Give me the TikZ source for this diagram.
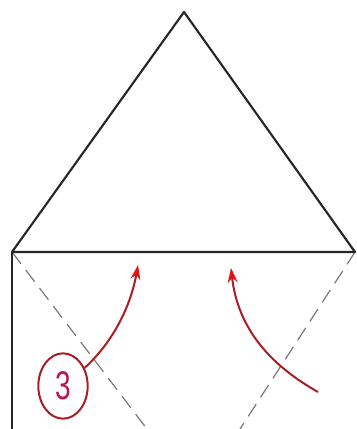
\documentclass[tikz,border=0pt]{standalone}
\usepackage{fontspec}
\setmainfont{Liberation Sans}
\usetikzlibrary{arrows.meta,shapes.geometric}
\definecolor{pen}{RGB}{170,30,35}
\definecolor{tipred}{RGB}{225,20,20}
\definecolor{foldgray}{RGB}{120,120,120}
\begin{document}
\begin{tikzpicture}[x=0.75pt,y=-0.75pt,
  solid line/.style={line width=1.6pt,black!85,line cap=round,line join=round},
  fold line/.style={line width=0.9pt,foldgray,dash pattern=on 11pt off 6pt},
  red arrow/.style={line width=1.5pt,pen,-{Stealth[length=11pt,width=7.5pt,fill=tipred,color=tipred]}},
  badge/.style={draw=pen,line width=1.5pt,ellipse,minimum width=37pt,minimum height=49pt,inner sep=0pt,text=pen!80!magenta,font=\fontsize{30}{30}\selectfont}]
\useasboundingbox (0,0) rectangle (357,429);
\coordinate (apex) at (184,12);
\coordinate (bl) at (12,252);
\coordinate (br) at (355,252);
\coordinate (bot) at (12,429);
\coordinate (dl) at (147,429);
\coordinate (dr) at (240,429);
\draw[fold line] (bl) -- (dl);
\draw[fold line] (br) -- (dr);
\draw[solid line] (bl) -- (apex) -- (br) -- cycle;
\draw[solid line] (bl) -- (bot);
\node[badge] (n3) at (63,386) {\scalebox{0.7}[1]{3}};
\coordinate (t1) at (138,265);
\coordinate (s2) at (318,392);
\coordinate (t2) at (231,268);
\draw[red arrow] (n3.40) .. controls (110,345) and (130,310) .. (t1);
\draw[red arrow] (s2) .. controls (272,366) and (238,330) .. (t2);
\end{tikzpicture}
\end{document}
